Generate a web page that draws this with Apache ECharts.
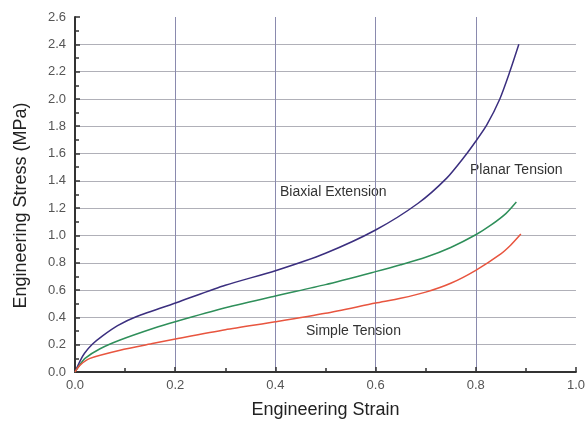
<!DOCTYPE html>
<html>
<head>
<meta charset="utf-8">
<script src="https://cdn.jsdelivr.net/npm/echarts@6/dist/echarts.min.js"></script>
<style>html,body{margin:0;padding:0;background:#fff}#c{width:588px;height:428px}</style>
</head>
<body>
<div id="c"></div>
<script>
var strainBiaxial = [0, 0.01, 0.019, 0.035, 0.055, 0.085, 0.122, 0.208, 0.3, 0.4, 0.5, 0.6, 0.685, 0.742, 0.778, 0.8, 0.822, 0.848, 0.868, 0.886];
var stressBiaxial = [0, 0.08, 0.137, 0.205, 0.265, 0.34, 0.405, 0.515, 0.635, 0.742, 0.87, 1.04, 1.236, 1.42, 1.58, 1.69, 1.81, 2.0, 2.2, 2.40];
var strainPlanar = [0, 0.01, 0.02, 0.05, 0.09, 0.157, 0.2, 0.3, 0.4, 0.5, 0.6, 0.65, 0.7, 0.75, 0.8, 0.83, 0.86, 0.881];
var stressPlanar = [0, 0.055, 0.10, 0.17, 0.234, 0.32, 0.368, 0.47, 0.557, 0.64, 0.735, 0.785, 0.84, 0.912, 1.005, 1.075, 1.16, 1.245];
var strainSimple = [0, 0.01, 0.03, 0.09, 0.157, 0.208, 0.3, 0.4, 0.5, 0.6, 0.65, 0.7, 0.75, 0.8, 0.85, 0.87, 0.89];
var stressSimple = [0, 0.05, 0.10, 0.16, 0.21, 0.247, 0.31, 0.368, 0.43, 0.505, 0.54, 0.585, 0.65, 0.745, 0.865, 0.93, 1.01];
var curveLabels = ['Biaxial Extension', 'Planar Tension', 'Simple Tension'];

function pairs(xs, ys) { return xs.map(function (x, i) { return [x, ys[i]]; }); }

var chart = echarts.init(document.getElementById('c'), null, {renderer: 'canvas'});
var font = 'Liberation Sans, Arial, sans-serif';
chart.setOption({
  animation: false,
  backgroundColor: '#ffffff',
  grid: {left: 75, right: 10, top: 17, bottom: 56},
  xAxis: {
    type: 'value', min: 0, max: 1.0, interval: 0.2,
    name: 'Engineering Strain', nameLocation: 'middle', nameGap: 29,
    nameTextStyle: {fontSize: 18, color: '#222', fontFamily: font},
    axisLine: {show: true, onZero: false, lineStyle: {color: '#333', width: 2}},
    axisTick: {show: true, inside: true, length: 5, lineStyle: {color: '#333', width: 1.5}},
    minorTick: {show: true, splitNumber: 2, length: 4, lineStyle: {color: '#333', width: 1.5}},
    axisLabel: {fontSize: 13, color: '#555', margin: 7, fontFamily: font,
      formatter: function (v) { return v.toFixed(1); }},
    splitLine: {show: true, showMinLine: false, showMaxLine: false, lineStyle: {color: '#8a8aae', width: 1}}
  },
  yAxis: {
    type: 'value', min: 0, max: 2.6, interval: 0.2,
    name: 'Engineering Stress (MPa)', nameLocation: 'middle', nameGap: 45,
    nameTextStyle: {fontSize: 18, color: '#222', fontFamily: font, padding: [0, 22, 0, 0]},
    axisLine: {show: true, onZero: false, lineStyle: {color: '#333', width: 2}},
    axisTick: {show: true, inside: true, length: 5, lineStyle: {color: '#333', width: 1.5}},
    minorTick: {show: true, splitNumber: 2, length: 4, lineStyle: {color: '#333', width: 1.5}},
    axisLabel: {fontSize: 13, color: '#555', margin: 9, fontFamily: font,
      formatter: function (v) { return v.toFixed(1); }},
    splitLine: {show: true, showMinLine: false, showMaxLine: false, lineStyle: {color: '#b0b0b8', width: 1}}
  },
  series: [
    {type: 'line', name: curveLabels[0], data: pairs(strainBiaxial, stressBiaxial), smooth: 0.25,
     showSymbol: false, lineStyle: {color: '#3b2f7f', width: 1.5}},
    {type: 'line', name: curveLabels[1], data: pairs(strainPlanar, stressPlanar), smooth: 0.25,
     showSymbol: false, lineStyle: {color: '#2f8f5a', width: 1.5}},
    {type: 'line', name: curveLabels[2], data: pairs(strainSimple, stressSimple), smooth: 0.25,
     showSymbol: false, lineStyle: {color: '#e8553f', width: 1.5}}
  ],
  graphic: [
    {type: 'text', left: 280, top: 185, style: {text: curveLabels[0], fontSize: 14, fill: '#333', fontFamily: font}},
    {type: 'text', left: 470, top: 163, style: {text: curveLabels[1], fontSize: 14, fill: '#333', fontFamily: font}},
    {type: 'text', left: 306, top: 324, style: {text: curveLabels[2], fontSize: 14, fill: '#333', fontFamily: font}}
  ]
});
</script>
</body>
</html>
